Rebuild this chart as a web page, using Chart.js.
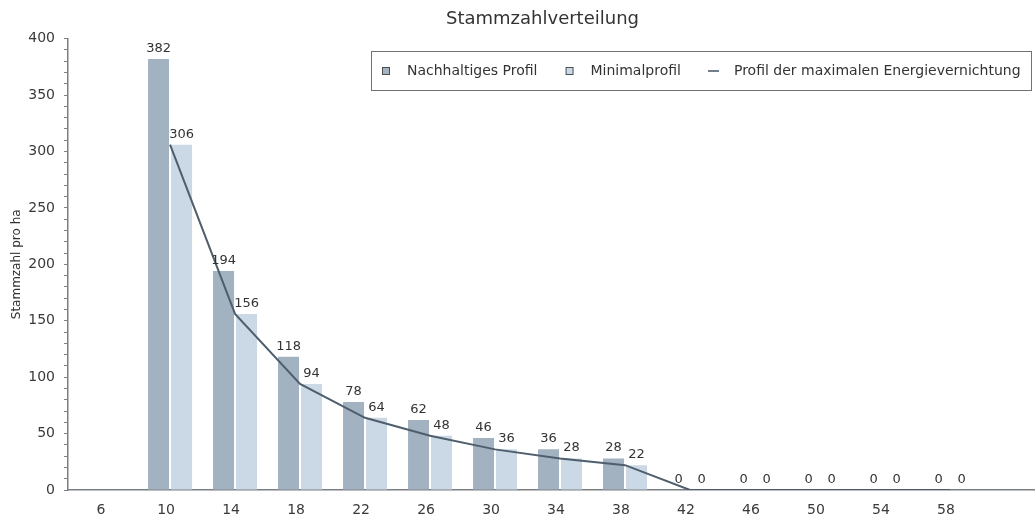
<!DOCTYPE html>
<html><head><meta charset="utf-8">
<script src="https://cdn.jsdelivr.net/npm/chart.js@4"></script>
<style>html,body{margin:0;padding:0;background:#fff}</style>
</head><body>
<canvas id="c" width="1035" height="519"></canvas>
<script>
const categories = [6, 10, 14, 18, 22, 26, 30, 34, 38, 42, 46, 50, 54, 58];
const nachhaltig = [null, 382, 194, 118, 78, 62, 46, 36, 28, 0, 0, 0, 0, 0];
const minimal = [null, 306, 156, 94, 64, 48, 36, 28, 22, 0, 0, 0, 0, 0];
const maxEnergie = [null, 306, 156, 94, 64, 48, 36, 28, 22, 0, 0, 0, 0, 0];
const seriesNames = ['Nachhaltiges Profil', 'Minimalprofil', 'Profil der maximalen Energievernichtung'];
const yTickLabels = [0, 50, 100, 150, 200, 250, 300, 350, 400];
const titleText = 'Stammzahlverteilung';
const yTitle = 'Stammzahl pro ha';

const FONT = '"DejaVu Sans", sans-serif';
const C_DARK = '#a3b2c1', C_LIGHT = '#cbd8e5', C_LINE = '#4f5e6d', C_AXIS = '#7a7f84', C_TEXT = '#333';

function toPoints(vals) { return categories.map((c, i) => ({x: c, y: vals[i]})); }

function marker(kind, fill) {
  const c = document.createElement('canvas'); c.width = 19; c.height = 10;
  const g = c.getContext('2d');
  if (kind === 'rect') {
    g.fillStyle = fill; g.fillRect(1, 1, 8, 8);
    g.strokeStyle = '#4a4f55'; g.lineWidth = 1; g.strokeRect(1.5, 1.5, 7, 7);
  } else {
    g.strokeStyle = fill; g.lineWidth = 1.6; g.beginPath(); g.moveTo(0, 5); g.lineTo(11, 5); g.stroke();
  }
  return c;
}
const markers = [marker('rect', C_DARK), marker('rect', C_LIGHT), marker('line', C_LINE)];
const LEG_PAD = 27;

const legendPlace = {
  id: 'legendPlace',
  beforeLayout(chart) {
    const lg = chart.legend;
    if (lg && !lg._patched) {
      const proto = Object.getPrototypeOf(lg);
      lg.update = function (a, b, m) { proto.update.call(this, a, b, m); this.height = 0; };
      lg._patched = true;
    }
  },
  afterLayout(chart) {
    const lg = chart.legend;
    if (lg) {
      lg.left = 381 - LEG_PAD; lg.right = chart.width + 200; lg.width = lg.right - lg.left;
      lg.top = 64 - LEG_PAD; lg.height = 90; lg.bottom = lg.top + lg.height;
    }
    const tb = chart.titleBlock;
    if (tb) { tb.left = 50; tb.right = chart.width; tb.width = tb.right - tb.left; }
  },
  afterDraw(chart) {
    const lg = chart.legend;
    if (!lg || !lg.legendHitBoxes || !lg.legendHitBoxes.length) return;
    const hb = lg.legendHitBoxes;
    const first = hb[0], last = hb[hb.length - 1];
    const cy = first.top + 7;
    const x0 = Math.round(first.left - 10) + 0.5;
    const x1 = Math.min(Math.round(last.left + last.width + 10), chart.width - 3) + 0.5;
    const y0 = Math.round(cy - 20) + 0.5, y1 = Math.round(cy + 19) + 0.5;
    const ctx = chart.ctx; ctx.save();
    ctx.strokeStyle = '#6f7378'; ctx.lineWidth = 1;
    ctx.strokeRect(x0, y0, x1 - x0, y1 - y0);
    ctx.restore();
  }
};

const valueLabels = {
  id: 'valueLabels',
  afterDatasetsDraw(chart) {
    const ctx = chart.ctx; ctx.save();
    ctx.font = '13px ' + FONT; ctx.fillStyle = C_TEXT; ctx.textAlign = 'center'; ctx.textBaseline = 'alphabetic';
    [0, 1].forEach(di => {
      const meta = chart.getDatasetMeta(di);
      const src = di === 0 ? nachhaltig : minimal;
      meta.data.forEach((el, i) => {
        const v = src[i];
        if (v === null || v === undefined) return;
        ctx.fillText(String(v), el.x, el.y - 7);
      });
    });
    ctx.restore();
  }
};

new Chart(document.getElementById('c'), {
  data: {
    datasets: [
      {type: 'bar', label: seriesNames[0], data: toPoints(nachhaltig), backgroundColor: C_DARK, borderWidth: 0, order: 1,
       categoryPercentage: 0.708, barPercentage: 0.913},
      {type: 'bar', label: seriesNames[1], data: toPoints(minimal), backgroundColor: C_LIGHT, borderWidth: 0, order: 1,
       categoryPercentage: 0.708, barPercentage: 0.913},
      {type: 'line', label: seriesNames[2], data: toPoints(maxEnergie), borderColor: C_LINE, backgroundColor: C_LINE,
       borderWidth: 2, pointRadius: 0, tension: 0, fill: false, order: 0}
    ]
  },
  options: {
    responsive: false,
    animation: false,
    devicePixelRatio: 1,
    layout: {padding: {left: 0, right: 0, top: 0, bottom: 0}},
    plugins: {
      title: {display: true, text: titleText, color: C_TEXT, font: {family: FONT, size: 18, weight: 'normal'},
              padding: {top: 9, bottom: 8}},
      legend: {
        display: true, position: 'top', align: 'start',
        labels: {
          usePointStyle: true, pointStyleWidth: 19, boxHeight: 10, padding: LEG_PAD,
          color: C_TEXT, font: {family: FONT, size: 14},
          sort: (a, b) => a.datasetIndex - b.datasetIndex,
          generateLabels(chart) {
            const items = Chart.defaults.plugins.legend.labels.generateLabels(chart);
            items.forEach(it => { it.pointStyle = markers[it.datasetIndex]; });
            return items;
          }
        }
      },
      tooltip: {enabled: false}
    },
    scales: {
      x: {
        type: 'linear', min: 3.72, max: 63.23, offset: false,
        afterBuildTicks(axis) { axis.ticks = categories.map(v => ({value: v})); },
        afterFit(scale) { scale.height = 29; },
        ticks: {autoSkip: false, maxRotation: 0, padding: 12, labelOffset: -4, color: '#3a3a3a', font: {family: FONT, size: 14}},
        grid: {drawOnChartArea: false, drawTicks: false},
        border: {display: true, color: C_AXIS, width: 1.5}
      },
      y: {
        type: 'linear', min: 0, max: 400,
        afterFit(scale) { scale.width = 68; },
        ticks: {stepSize: 10, autoSkip: false, padding: 9, color: '#3a3a3a', font: {family: FONT, size: 14},
                callback: v => (yTickLabels.includes(v) ? String(v) : '')},
        grid: {drawOnChartArea: false, drawTicks: true, tickLength: 4, tickColor: C_AXIS},
        border: {display: true, color: C_AXIS, width: 1.5},
        title: {display: true, text: yTitle, color: C_TEXT, font: {family: FONT, size: 12}, padding: {top: 10, bottom: 4}}
      }
    }
  },
  plugins: [legendPlace, valueLabels]
});
</script>
</body></html>
